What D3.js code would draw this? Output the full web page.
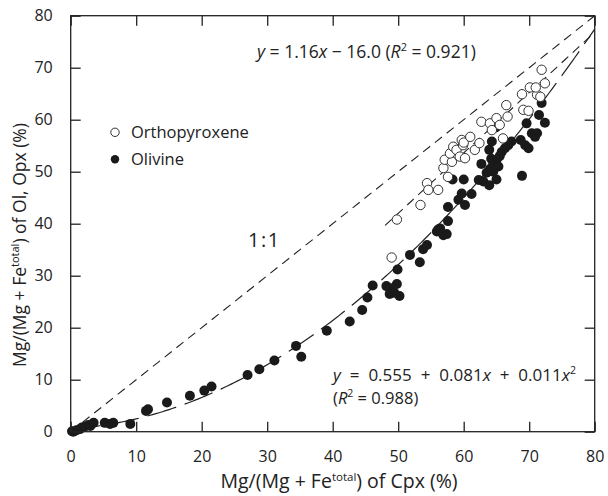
<!DOCTYPE html>
<html>
<head>
<meta charset="utf-8">
<script src="https://cdn.jsdelivr.net/npm/d3@7/dist/d3.min.js"></script>
<style>
  html, body { margin: 0; padding: 0; background: #fff; }
  svg text { font-family: "Open Sans", "Noto Sans", sans-serif; fill: #222; }
</style>
</head>
<body>
<svg id="chart" width="608" height="496"></svg>
<script>
// Olivine: Mg# of Cpx (x) vs Mg# of olivine (y), %
const olivine = [
  [0.2,0.1],[0.4,0.0],[0.9,0.3],[1.4,0.5],[1.7,0.8],[2.2,1.0],[2.7,1.3],[3.0,1.1],[3.5,1.7],
  [5.2,1.7],[6.0,1.5],[6.5,1.7],[9.1,1.5],[11.5,4.0],[11.8,4.3],[14.7,5.6],[18.2,6.9],
  [20.4,7.9],[21.5,8.7],[27.0,10.9],[28.8,12.0],[31.1,13.7],[34.4,16.5],[35.2,14.4],
  [39.1,19.4],[42.6,21.2],[44.5,23.4],[45.3,25.8],[46.1,28.1],[48.2,28.0],[49.0,27.6],
  [49.8,28.4],[48.7,26.5],[49.4,26.7],[50.2,26.1],[49.9,31.2],[51.8,34.0],[53.3,32.6],
  [53.8,35.1],[54.4,35.9],[55.9,38.5],[56.1,38.9],[56.4,39.1],[56.9,37.8],[57.4,38.0],
  [57.6,40.5],[57.6,43.2],[58.3,48.5],[60.0,48.5],[59.2,44.6],[59.7,45.8],[60.2,43.6],
  [61.2,45.7],[62.3,48.4],[63.0,48.1],[63.9,47.4],[65.0,48.5],[62.7,51.5],[68.9,49.2],
  [63.5,49.8],[64.0,50.5],[64.5,51.5],[65.0,52.2],[65.5,53.0],[65.8,53.8],[66.3,54.5],
  [66.8,55.1],[67.3,55.8],[64.3,55.8],[63.9,54.2],[64.9,58.5],[65.3,51.0],[64.2,52.5],
  [64.5,50.0],[68.7,56.1],[69.4,55.1],[69.9,54.5],[69.6,59.3],[70.4,57.4],[71.2,57.4],
  [70.9,56.7],[71.5,60.9],[71.9,63.2],[72.4,59.4]
];

// Orthopyroxene: Mg# of Cpx (x) vs Mg# of orthopyroxene (y), %
const orthopyroxene = [
  [49.0,33.5],[49.8,40.8],[53.4,43.6],[54.4,47.8],[54.6,46.5],[56.1,46.5],[56.9,50.7],
  [57.1,52.3],[57.6,49.0],[58.2,51.9],[57.9,53.5],[58.4,54.8],[58.9,54.2],[59.4,52.9],
  [59.7,56.1],[59.9,55.1],[60.2,52.6],[60.0,55.6],[61.0,56.7],[61.7,54.2],[62.4,55.5],
  [62.7,59.6],[64.0,59.3],[64.3,58.0],[65.0,60.3],[65.5,59.0],[66.7,60.6],[66.5,62.8],
  [66.0,56.4],[68.9,64.9],[69.1,61.9],[69.9,61.7],[70.1,66.2],[71.2,64.8],[71.7,64.4],
  [72.4,67.0],[71.9,69.6],[71.0,66.2]
];

const xTicks = [0, 10, 20, 30, 40, 50, 60, 70, 80];
const yTicks = [0, 10, 20, 30, 40, 50, 60, 70, 80];

// Fitted relations
const linearFit = { slope: 1.16, intercept: -16.0, xFrom: 48, xTo: 80 };
const quadFit = { c0: 0.555, c1: 0.081, c2: 0.011, xFrom: 0, xTo: 80 };

const svg = d3.select("#chart");
const m = { left: 70.7, right: 594.7, top: 15.7, bottom: 431.7 };

const x = d3.scaleLinear().domain([0, 80]).range([m.left, m.right]);
const y = d3.scaleLinear().domain([0, 80]).range([m.bottom, m.top]);

const plot = svg.append("g");

// clip to the frame
svg.append("clipPath").attr("id", "frame")
  .append("rect").attr("x", m.left).attr("y", m.top)
  .attr("width", m.right - m.left).attr("height", m.bottom - m.top);

const lines = plot.append("g").attr("clip-path", "url(#frame)");
const line = d3.line().x(d => x(d[0])).y(d => y(d[1]));

// 1:1 line
lines.append("path")
  .attr("d", line([[0, 0], [80, 80]]))
  .attr("fill", "none").attr("stroke", "#222").attr("stroke-width", 1.1)
  .attr("stroke-dasharray", "9,6");

// linear fit (Opx)
lines.append("path")
  .attr("d", line(d3.range(linearFit.xFrom, linearFit.xTo + 0.01, 0.5)
    .map(v => [v, linearFit.slope * v + linearFit.intercept])))
  .attr("fill", "none").attr("stroke", "#222").attr("stroke-width", 1.1)
  .attr("stroke-dasharray", "9,6");

// quadratic fit (Ol)
lines.append("path")
  .attr("d", line(d3.range(quadFit.xFrom, quadFit.xTo + 0.01, 0.5)
    .map(v => [v, quadFit.c0 + quadFit.c1 * v + quadFit.c2 * v * v])))
  .attr("fill", "none").attr("stroke", "#222").attr("stroke-width", 1.2)
  .attr("stroke-dasharray", "30,9");

// points
plot.append("g").selectAll("circle").data(olivine).join("circle")
  .attr("cx", d => x(d[0])).attr("cy", d => y(d[1])).attr("r", 5)
  .attr("fill", "#1a1a1a");

plot.append("g").selectAll("circle").data(orthopyroxene).join("circle")
  .attr("cx", d => x(d[0])).attr("cy", d => y(d[1])).attr("r", 4.7)
  .attr("fill", "#fff").attr("stroke", "#333").attr("stroke-width", 1);

// frame
svg.append("rect").attr("x", m.left).attr("y", m.top)
  .attr("width", m.right - m.left).attr("height", m.bottom - m.top)
  .attr("fill", "none").attr("stroke", "#222").attr("stroke-width", 1.3);

// axes with inward ticks on all sides
const tickStyle = g => {
  g.select(".domain").remove();
  g.selectAll("line").attr("stroke", "#222").attr("stroke-width", 1.3);
  g.selectAll("text").style("font-size", "16px").attr("fill", "#222");
};
svg.append("g").attr("transform", `translate(0,${m.bottom})`)
  .call(d3.axisBottom(x).tickValues(xTicks).tickSize(-10).tickPadding(19))
  .call(tickStyle);
svg.append("g").attr("transform", `translate(0,${m.top})`)
  .call(d3.axisTop(x).tickValues(xTicks).tickSize(-10).tickFormat(""))
  .call(tickStyle);
svg.append("g").attr("transform", `translate(${m.left},0)`)
  .call(d3.axisLeft(y).tickValues(yTicks).tickSize(-10).tickPadding(18))
  .call(tickStyle);
svg.append("g").attr("transform", `translate(${m.right},0)`)
  .call(d3.axisRight(y).tickValues(yTicks).tickSize(-10).tickFormat(""))
  .call(tickStyle);

// axis titles
const xt = svg.append("text").attr("x", 339).attr("y", 488)
  .attr("text-anchor", "middle").style("font-size", "19.5px");
xt.append("tspan").text("Mg/(Mg + Fe");
xt.append("tspan").attr("dy", -7).style("font-size", "11.5px").text("total");
xt.append("tspan").attr("dy", 7).text(") of Cpx (%)");

const yt = svg.append("text").attr("transform", "translate(26,245) rotate(-90)")
  .attr("text-anchor", "middle").style("font-size", "17.5px");
yt.append("tspan").text("Mg/(Mg + Fe");
yt.append("tspan").attr("dy", -7).style("font-size", "11px").text("total");
yt.append("tspan").attr("dy", 7).text(") of Ol, Opx (%)");

// legend
const legend = svg.append("g");
legend.append("circle").attr("cx", 115).attr("cy", 132.3).attr("r", 4.2)
  .attr("fill", "#fff").attr("stroke", "#333").attr("stroke-width", 1);
legend.append("text").attr("x", 131).attr("y", 138).style("font-size", "16.5px").text("Orthopyroxene");
legend.append("circle").attr("cx", 115).attr("cy", 159.3).attr("r", 4.2).attr("fill", "#1a1a1a");
legend.append("text").attr("x", 131).attr("y", 165).style("font-size", "16.5px").text("Olivine");

// annotations
const eq1 = svg.append("text").attr("x", 257).attr("y", 58).style("font-size", "17.5px");
eq1.append("tspan").style("font-style", "italic").text("y");
eq1.append("tspan").text(" = 1.16");
eq1.append("tspan").style("font-style", "italic").text("x");
eq1.append("tspan").text(" − 16.0 (");
eq1.append("tspan").style("font-style", "italic").text("R");
eq1.append("tspan").attr("dy", -7).style("font-size", "11px").text("2");
eq1.append("tspan").attr("dy", 7).text(" = 0.921)");

svg.append("text").attr("x", 248).attr("y", 247)
  .style("font-size", "20px").style("letter-spacing", "1.5px").text("1:1");

const eq2 = svg.append("text").attr("x", 333).attr("y", 381)
  .style("font-size", "17px").style("word-spacing", "4.5px");
eq2.append("tspan").style("font-style", "italic").text("y");
eq2.append("tspan").text(" = 0.555 + 0.081");
eq2.append("tspan").style("font-style", "italic").text("x");
eq2.append("tspan").text(" + 0.011");
eq2.append("tspan").style("font-style", "italic").text("x");
eq2.append("tspan").attr("dy", -7).style("font-size", "10.5px").text("2");

const eq3 = svg.append("text").attr("x", 333).attr("y", 404).style("font-size", "16.5px");
eq3.append("tspan").text("(");
eq3.append("tspan").style("font-style", "italic").text("R");
eq3.append("tspan").attr("dy", -7).style("font-size", "10.5px").text("2");
eq3.append("tspan").attr("dy", 7).text(" = 0.988)");
</script>
</body>
</html>
